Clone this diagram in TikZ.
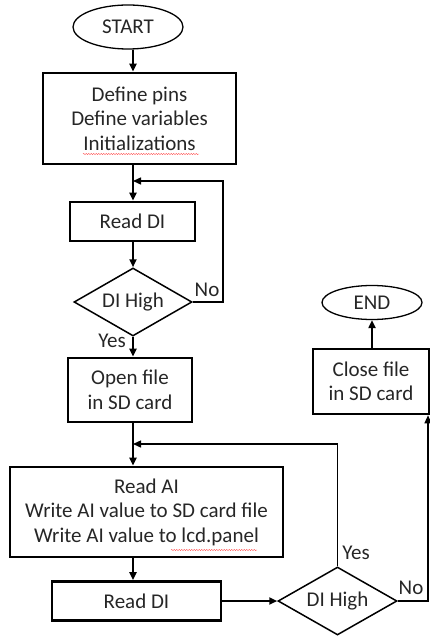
\documentclass[tikz,border=0pt]{standalone}
\usepackage{fontspec}
\setmainfont{Carlito}
\usetikzlibrary{shapes.geometric,arrows.meta,decorations.pathmorphing}
\begin{document}
\begin{tikzpicture}[x=1pt,y=-1pt,
  txt/.style={font=\fontsize{21}{24.5}\selectfont, align=center, text=black!85},
  proc/.style={txt, draw, line width=2.6pt, rectangle, inner sep=0pt},
  term/.style={txt, draw, line width=1.3pt, ellipse, inner sep=0pt},
  dec/.style={txt, draw, line width=1.5pt, diamond, aspect=1.74, inner sep=0pt},
  arr/.style={line width=2pt, -{Triangle[length=8pt,width=7pt]}},
  loopl/.style={line width=1.4pt, -{Triangle[length=8pt,width=7pt]}},
  lbl/.style={font=\fontsize{21}{24}\selectfont, inner sep=0pt, text=black!85},
  squig/.style={red!70, line width=0.4pt, decorate, decoration={snake, amplitude=0.6pt, segment length=2.5pt}}]
\useasboundingbox (0,0) rectangle (430,636);
\coordinate (mx) at (133,0);
\node[term, minimum width=110pt, minimum height=44pt] (start) at (128,27) {START};
\node[proc, minimum width=193pt, minimum height=91pt] (init) at (139.5,118.5) {Define pins\\Define variables\\Initializations};
\node[proc, minimum width=125pt, minimum height=39pt] (rd1) at (132.5,221.5) {Read DI};
\node[dec, minimum width=118pt, minimum height=68pt] (d1) at (133,302) {DI High};
\node[proc, minimum width=124pt, minimum height=64pt] (open) at (130,390) {Open file\\in SD card};
\node[proc, minimum width=273pt, minimum height=90pt] (ai) at (146.5,512) {Read AI\\Write AI value to SD card file\\Write AI value to lcd.panel};
\node[proc, minimum width=169pt, minimum height=39pt] (rd2) at (136.5,601) {Read DI};
\node[dec, minimum width=119pt, minimum height=68pt] (d2) at (337.5,601) {DI High};
\node[proc, minimum width=116pt, minimum height=65pt] (close) at (371,381.5) {Close file\\in SD card};
\node[term, minimum width=100pt, minimum height=34pt] (end) at (372,302.5) {END};
\coordinate (j1) at (133,181);
\coordinate (c1) at (223,181);
\coordinate (j2) at (133,444);
\coordinate (c2) at (428,601);
\draw[arr] (start.south -| mx) -- (init.north -| mx);
\draw[arr] (init.south -| mx) -- (rd1.north -| mx);
\draw[arr] (rd1.south -| mx) -- (d1.north);
\draw[arr] (d1.south) -- (open.north -| d1.south);
\draw[loopl] (d1.east) -| (c1) -- (j1);
\draw[arr] (open.south -| mx) -- (ai.north -| mx);
\draw[loopl] (d2.north) |- (j2);
\draw[arr] (ai.south -| mx) -- (rd2.north -| mx);
\draw[arr] (rd2.east) -- (d2.west);
\draw[loopl] (d2.east) -- (c2) -- (close.south -| c2);
\draw[arr] (close.north -| end.south) -- (end.south);
\node[lbl] (no1) at (207,290) {No};
\node[lbl] (yes1) at (112,341) {Yes};
\node[lbl] (yes2) at (356,553) {Yes};
\node[lbl] (no2) at (411,588) {No};
\coordinate (s1a) at (83,154);
\coordinate (s1b) at (199,154);
\coordinate (s2a) at (171,550);
\coordinate (s2b) at (257,550);
\draw[squig] (s1a) -- (s1b);
\draw[squig] (s2a) -- (s2b);
\end{tikzpicture}
\end{document}
